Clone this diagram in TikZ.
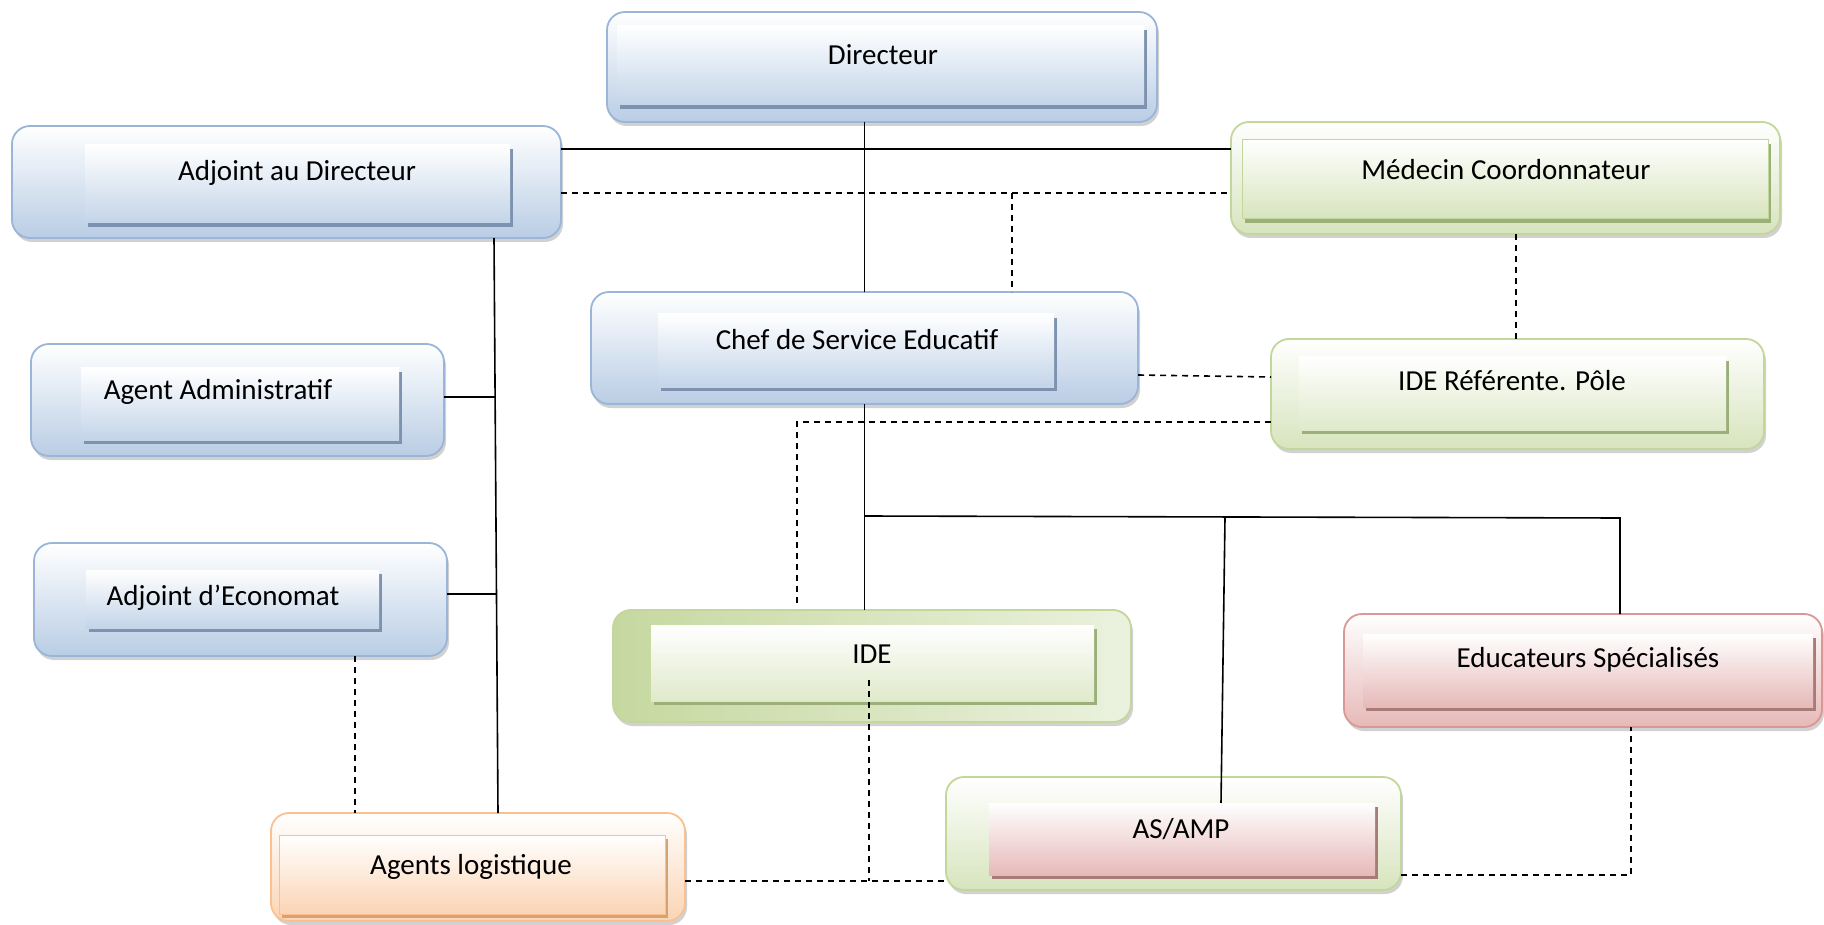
\documentclass[tikz,border=0pt]{standalone}
\usepackage{fontspec}
\setmainfont{Carlito}
\usetikzlibrary{shadows,calc}
\definecolor{bluB}{HTML}{9AB5D8}
\definecolor{bluF}{HTML}{B9CDE5}
\definecolor{bluS}{HTML}{7D92AE}
\definecolor{greB}{HTML}{C3D69B}
\definecolor{greF}{HTML}{D7E4BD}
\definecolor{greD}{HTML}{C6D8A0}
\definecolor{greS}{HTML}{9BAF7A}
\definecolor{redB}{HTML}{D99795}
\definecolor{redF}{HTML}{E6B9B8}
\definecolor{redS}{HTML}{A87B79}
\definecolor{orB}{HTML}{FAC090}
\definecolor{orF}{HTML}{FBD4B4}
\definecolor{orS}{HTML}{D3A275}
\newcommand\bx[6]{\node[#2, minimum width={(#5-#3)*1pt}, minimum height={(#6-#4)*1pt}] (#1) at ({(#3+#5)/2},{(#4+#6)/2}) {};}
\begin{document}
\begin{tikzpicture}[x=1pt,y=-1pt,
  outer/.style n args={3}{draw=#1, line width=1.8pt, rounded corners=18pt, top color=#2, bottom color=#3,
    drop shadow={shadow xshift=2pt, shadow yshift=-4pt, opacity=.3, fill=black!60}, inner sep=0pt, outer sep=0pt},
  ob/.style={outer={bluB}{white}{bluF}},
  og/.style={outer={greB}{white}{greF}},
  ogd/.style={draw=greB, line width=1.8pt, rounded corners=18pt, left color=greD, right color=greF!50,
    drop shadow={shadow xshift=2pt, shadow yshift=-4pt, opacity=.3, fill=black!60}, inner sep=0pt, outer sep=0pt},
  orr/.style={outer={redB}{white}{redF}},
  oo/.style={outer={orB}{white}{orF}},
  inner/.style n args={3}{top color=#1, bottom color=#2, inner sep=0pt, outer sep=0pt,
    drop shadow={shadow xshift=3pt, shadow yshift=-4pt, opacity=1, fill=#3}},
  ib/.style={inner={white}{bluF!85}{bluS}},
  ig/.style={inner={white}{greF}{greS}, draw=greB, line width=1pt},
  igw/.style={inner={white}{greF!80}{greS}},
  ir/.style={inner={white}{redF}{redS}},
  io/.style={inner={white}{orF}{orS}, draw=orB, line width=1pt},
  lbl/.style={font=\fontsize{29}{34}\selectfont, inner sep=0pt},
  solidln/.style={line width=1.6pt, black},
  dashln/.style={line width=1.6pt, black, dash pattern=on 6pt off 5pt},
]
\useasboundingbox (0,0) rectangle (1824,925);
% boxes
\bx{dir}{ob}{607}{12}{1157}{122}
\bx{dirIn}{ib}{617}{26}{1144}{105}
\node[lbl] (dirT) at (883,55) {Directeur};
\bx{adj}{ob}{12}{126}{561}{238}
\bx{adjIn}{ib}{85}{145}{510}{223}
\node[lbl] (adjT) at (297,173) {Adjoint au Directeur};
\bx{med}{og}{1231}{122}{1780}{234}
\bx{medIn}{ig}{1242}{140}{1768}{219}
\node[lbl] (medT) at (1506,170) {Médecin Coordonnateur};
\bx{chef}{ob}{591}{292}{1138}{404}
\bx{chefIn}{ib}{658}{314}{1054}{387}
\node[lbl] (chefT) at (857,340) {Chef de Service Educatif};
\bx{ideref}{og}{1271}{339}{1764}{449}
\bx{iderefIn}{igw}{1299}{357}{1726}{430}
\node[lbl] (iderefT) at (1512,381) {IDE Référente. Pôle};
\bx{admin}{ob}{31}{344}{444}{456}
\bx{adminIn}{ib}{81}{368}{399}{440}
\node[lbl] (adminT) at (218,392) {Agent Administratif};
\bx{eco}{ob}{34}{543}{447}{656}
\bx{ecoIn}{ib}{86}{570}{379}{628}
\node[lbl] (ecoT) at (223,598) {Adjoint d’Economat};
\bx{ide}{ogd}{613}{610}{1131}{722}
\bx{ideIn}{igw}{651}{625}{1094}{701}
\node[lbl] (ideT) at (872,654) {IDE};
\bx{educ}{orr}{1344}{614}{1822}{727}
\bx{educIn}{ir}{1363}{634}{1813}{707}
\node[lbl] (educT) at (1588,660) {Educateurs Spécialisés};
\bx{asamp}{og}{946}{777}{1401}{890}
\bx{asampIn}{ir}{989}{803}{1375}{875}
\node[lbl] (asampT) at (1181,829) {AS/AMP};
\bx{logi}{oo}{271}{813}{685}{921}
\bx{logiIn}{io}{279}{835}{665}{914}
\node[lbl] (logiT) at (471,867) {Agents logistique};
% connectors
\draw[solidln] (chef.north |- dir.south) -- (chef.north);
\draw[solidln] (adj.east |- 0,149) -- (med.west |- 0,149);
\draw[dashln] (adj.east |- 0,193) -- (med.west |- 0,193);
\coordinate (j1) at (1012,193);
\draw[dashln] (j1) -- (j1 |- chef.north);
\draw[solidln] (adj.south -| 494,0) -- (logi.north -| 498,0);
\draw[solidln] (admin.east |- 0,397) -- (495,397);
\draw[solidln] (eco.east |- 0,594) -- (497,594);
\draw[dashln] (eco.south -| 355,0) -- (logi.north -| 355,0);
\draw[dashln] (med.south -| 1516,0) -- (ideref.north -| 1516,0);
\draw[dashln] (chef.east |- 0,375) -- (ideref.west |- 0,377);
\draw[dashln] (ideref.west |- 0,422) -| (797,605);
\draw[solidln] (chef.south) -- (chef.south |- ide.north);
\coordinate (j2) at (864,516);
\draw[solidln] (j2) -- (1620,518) -- (educ.north -| 1620,0);
\draw[solidln] (1225,518) -- (asampIn.north -| 1221,0);
\coordinate (j3) at (869,680);
\draw[dashln] (j3) -- (869,881);
\draw[dashln] (logi.east |- 0,881) -- (asamp.west |- 0,881);
\draw[dashln] (asamp.east |- 0,875) -| (educ.south -| 1631,0);
\end{tikzpicture}
\end{document}
